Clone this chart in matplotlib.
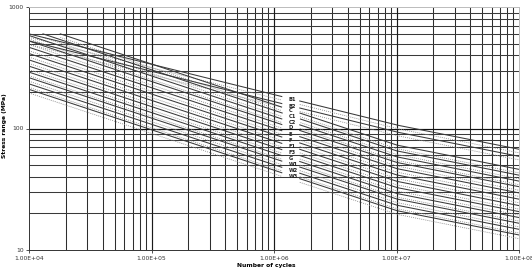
"""S-N design curves, log-log chart with curve labels in a gap."""

import matplotlib

matplotlib.use("Agg")
import matplotlib.pyplot as plt
import numpy as np
from matplotlib.ticker import NullFormatter

curve_names = ["B1", "B2", "C", "C1", "C2", "D", "E", "F", "F1", "F3", "G", "W1", "W2", "W3"]

# solid curves: start point, knee at 1e7, end at 1e8
start_cycles = [1e4, 1e4, 1.8e4, 1.3e4, 1e4, 1e4, 1e4, 1e4, 1e4, 1e4, 1e4, 1e4, 1e4, 1e4]
solid_start = [601, 526, 601, 601, 583, 525, 466, 414, 367, 326, 291, 262, 233, 210]
solid_1e7 = [106.9, 93.6, 73.1, 65.5, 58.5, 52.6, 46.8, 41.5, 36.8, 32.7, 29.2, 26.3, 23.4, 21.1]
solid_1e8 = [67.5, 59.0, 46.1, 41.3, 36.9, 33.2, 29.5, 26.2, 23.2, 20.7, 18.5, 16.6, 14.8, 13.3]

# dotted companion curves, a little lower
dotted_start = [562, 492, 562, 562, 545, 491, 436, 387, 343, 305, 272, 245, 218, 196]
dotted_1e7 = [100.0, 87.5, 68.3, 61.2, 54.7, 49.2, 43.8, 38.8, 34.4, 30.6, 27.3, 24.6, 21.9, 19.7]
dotted_1e8 = [63.1, 55.2, 43.1, 38.6, 34.5, 31.0, 27.6, 24.5, 21.7, 19.4, 17.3, 15.5, 13.8, 12.4]

x_ticks = [1e4, 1e5, 1e6, 1e7, 1e8]
x_tick_labels = ["1.00E+04", "1.00E+05", "1.00E+06", "1.00E+07", "1.00E+08"]
y_ticks = [10, 100, 1000]
y_tick_labels = ["10", "100", "1000"]

gap = (1.17e6, 1.62e6)  # curves are broken here, labels sit in the gap
label_cycles = 1.4e6

fig = plt.figure(figsize=(5.32, 2.69), dpi=100)
ax = fig.add_axes([29 / 532, 19 / 269, 490 / 532, 243 / 269])
ax.set_xscale("log")
ax.set_yscale("log")
ax.set_xlim(1e4, 1e8)
ax.set_ylim(10, 1000)

# grid: every 1..9 in each decade
minor_x = [m * 10.0 ** e for e in range(4, 8) for m in range(2, 10)]
minor_y = [m * 10.0 ** e for e in range(1, 3) for m in range(2, 10)]
for xv in minor_x:
    ax.axvline(xv, color="#2e2e2e", lw=0.75, zorder=1)
for yv in minor_y:
    ax.axhline(yv, color="#3a3a3a", lw=0.75, zorder=1)
for xv in x_ticks[1:-1]:
    ax.axvline(xv, color="#1a1a1a", lw=0.85, zorder=1)
ax.axhline(100, color="#111111", lw=0.85, zorder=1)


def curve(n_start, s_start, s_knee, s_end):
    logn = np.linspace(np.log10(n_start), 8, 600)
    s = 10 ** np.interp(logn, [np.log10(n_start), 7, 8],
                        np.log10([s_start, s_knee, s_end]))
    n = 10 ** logn
    s[(n > gap[0]) & (n < gap[1])] = np.nan
    return n, s


for i, name in enumerate(curve_names):
    n, s = curve(start_cycles[i], dotted_start[i], dotted_1e7[i], dotted_1e8[i])
    ax.plot(n, s, color="#8a8a8a", lw=0.6, ls=(0, (1.2, 1.3)), zorder=2)
    n, s = curve(start_cycles[i], solid_start[i], solid_1e7[i], solid_1e8[i])
    ax.plot(n, s, color="#3a3a3a", lw=0.75, zorder=3)
    s_lab = 10 ** np.interp(np.log10(label_cycles),
                            [np.log10(start_cycles[i]), 7, 8],
                            np.log10([solid_start[i], solid_1e7[i], solid_1e8[i]]))
    ax.text(1.32e6, s_lab, name, fontsize=3.7, fontweight="bold", color="#222222",
            ha="left", va="center", zorder=4)

ax.xaxis.set_minor_formatter(NullFormatter())
ax.set_xticks(x_ticks, x_tick_labels)
ax.yaxis.set_minor_formatter(NullFormatter())
ax.set_yticks(y_ticks, y_tick_labels)
ax.tick_params(axis="both", which="major", labelsize=4.3, length=2, width=0.6, pad=2,
               colors="#333333")
ax.tick_params(axis="both", which="minor", length=0)
for side in ["left", "bottom"]:
    ax.spines[side].set_color("#333333")
    ax.spines[side].set_linewidth(0.7)
for side in ["right", "top"]:
    ax.spines[side].set_color("#bbbbbb")
    ax.spines[side].set_linewidth(0.7)

ax.set_xlabel("Number of cycles", fontsize=4.3, fontweight="bold")
ax.xaxis.set_label_coords(0.484, -0.055)
ax.set_ylabel("Stress range (MPa)", fontsize=4.3, fontweight="bold")
ax.yaxis.set_label_coords(-0.045, 0.51)

fig.savefig("out.png", dpi=100)
